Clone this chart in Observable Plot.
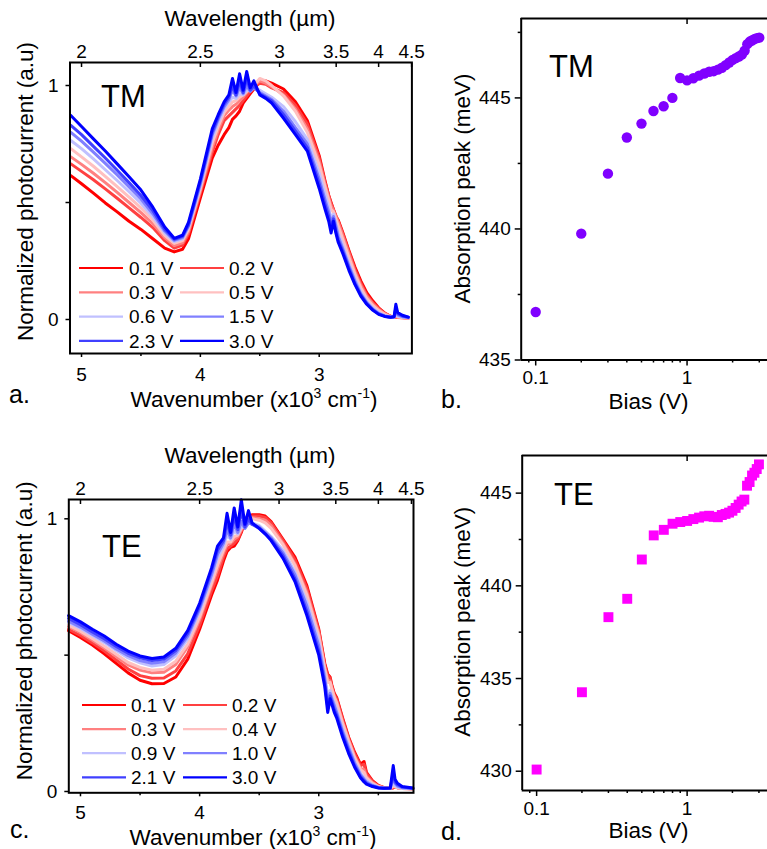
<!DOCTYPE html>
<html><head><meta charset="utf-8">
<script src="https://cdn.jsdelivr.net/npm/d3@7"></script>
<script src="https://cdn.jsdelivr.net/npm/@observablehq/plot@0.6"></script>
<style>
body{margin:0;background:#fff;}
#fig{position:relative;width:767px;height:849px;overflow:hidden;font-family:"Liberation Sans",Arial,sans-serif;color:#000;background:#fff;}
.panel{position:absolute;}
</style></head><body><div id="fig"></div>
<script>
// ---------- DATA ----------
// Wavenumber grids (x10^3 cm^-1)
const waveTM = [5.09,5.0,4.9,4.8,4.7,4.6,4.5,4.4,4.3,4.22, 4.15,4.1,4.0,3.9,3.85,3.8,3.76,3.73,3.70,3.67, 3.64,3.61,3.58,3.55,3.5,3.45,3.4,3.3,3.2,3.1, 3.0,2.95,2.92,2.9,2.88,2.86,2.84,2.8,2.75,2.7, 2.65,2.6,2.55,2.5,2.45,2.4,2.37,2.355,2.34,2.3, 2.25];
const tm01 = [0.615,0.58,0.54,0.498,0.46,0.42,0.385,0.345,0.305,0.289, 0.30,0.345,0.52,0.69,0.745,0.79,0.82,0.855,0.87,0.89, 0.925,0.945,0.965,0.985,1.02,1.02,1.01,0.985,0.93,0.85, 0.70,0.59,0.53,0.50,0.47,0.44,0.425,0.37,0.295,0.225, 0.165,0.115,0.08,0.05,0.028,0.014,0.01,0.012,0.01,0.008, 0.006];
const tm02 = [0.665,0.633,0.597,0.558,0.518,0.477,0.436,0.393,0.337,0.305, 0.318,0.365,0.54,0.715,0.79,0.85,0.87,0.885,0.90,0.915, 0.935,0.955,0.975,0.99,1.01,1.005,0.99,0.97,0.915,0.835, 0.69,0.585,0.53,0.495,0.47,0.445,0.42,0.365,0.29,0.215, 0.155,0.105,0.072,0.047,0.027,0.014,0.01,0.012,0.009,0.007, 0.006];
const tm03 = [0.695,0.663,0.625,0.585,0.543,0.50,0.457,0.41,0.35,0.316, 0.328,0.375,0.55,0.735,0.81,0.87,0.895,0.91,0.92,0.935, 0.95,0.97,0.99,1.0,1.02,1.01,0.995,0.96,0.90,0.815, 0.675,0.575,0.52,0.485,0.465,0.44,0.415,0.355,0.28,0.205, 0.145,0.098,0.067,0.043,0.025,0.013,0.01,0.015,0.01,0.007, 0.006];
const tm05 = [0.73,0.695,0.655,0.612,0.568,0.523,0.477,0.425,0.36,0.325, 0.337,0.385,0.56,0.755,0.825,0.885,0.91,0.93,0.935,0.95, 0.96,0.975,0.99,1.0,1.03,1.02,1.0,0.955,0.89,0.80, 0.66,0.565,0.51,0.47,0.46,0.43,0.40,0.34,0.265,0.195, 0.135,0.09,0.06,0.038,0.022,0.012,0.01,0.02,0.012,0.008, 0.006];
const tm06 = [0.765,0.73,0.686,0.64,0.594,0.546,0.497,0.44,0.37,0.333, 0.345,0.395,0.57,0.775,0.84,0.90,0.93,0.95,0.945,0.965, 0.96,0.98,0.98,0.99,0.98,0.965,0.95,0.91,0.845,0.77, 0.625,0.535,0.48,0.43,0.45,0.41,0.37,0.315,0.24,0.175, 0.12,0.078,0.05,0.03,0.017,0.011,0.01,0.03,0.015,0.01, 0.007];
const tm15 = [0.80,0.762,0.715,0.667,0.618,0.567,0.515,0.452,0.378,0.338, 0.35,0.40,0.58,0.79,0.855,0.91,0.94,0.98,0.955,0.99, 0.965,1.0,0.975,0.99,0.97,0.955,0.94,0.89,0.82,0.75, 0.60,0.51,0.46,0.41,0.44,0.40,0.355,0.30,0.23,0.165, 0.11,0.072,0.045,0.026,0.015,0.01,0.011,0.04,0.02,0.012, 0.008];
const tm23 = [0.83,0.79,0.74,0.69,0.638,0.585,0.53,0.465,0.385,0.343, 0.355,0.405,0.59,0.80,0.865,0.92,0.95,1.0,0.96,1.02, 0.97,1.03,0.98,1.0,0.965,0.95,0.935,0.875,0.805,0.735, 0.58,0.49,0.44,0.39,0.43,0.38,0.34,0.29,0.22,0.155, 0.105,0.068,0.042,0.024,0.014,0.01,0.012,0.05,0.025,0.015, 0.01];
const tm30 = [0.872,0.825,0.772,0.720,0.665,0.610,0.553,0.480,0.395,0.347, 0.36,0.415,0.60,0.815,0.875,0.93,0.96,1.03,0.97,1.05, 0.98,1.06,0.99,1.02,0.96,0.945,0.925,0.86,0.79,0.72, 0.56,0.47,0.42,0.37,0.42,0.37,0.33,0.28,0.21,0.15, 0.10,0.065,0.04,0.022,0.013,0.01,0.012,0.065,0.03,0.018, 0.01];
const biasTM = ["0.1 V","0.2 V","0.3 V","0.5 V","0.6 V","1.5 V","2.3 V","3.0 V"];

const waveTE = [5.1,5.0,4.9,4.8,4.7,4.6,4.5,4.4,4.3,4.2, 4.1,4.0,3.9,3.85,3.8,3.77,3.74,3.71,3.68,3.65, 3.62,3.59,3.56,3.5,3.45,3.4,3.3,3.2,3.1,3.0, 2.95,2.925,2.905,2.89,2.87,2.85,2.8,2.75,2.7,2.65, 2.62,2.6,2.55,2.5,2.45,2.4,2.375,2.36,2.34,2.3, 2.21];
const te01 = [0.59,0.565,0.537,0.505,0.47,0.435,0.408,0.395,0.396,0.42, 0.485,0.595,0.72,0.775,0.845,0.88,0.895,0.90,0.92,0.95, 0.99,1.005,1.015,1.015,1.01,0.99,0.925,0.86,0.755,0.595, 0.47,0.43,0.42,0.39,0.36,0.345,0.27,0.20,0.145,0.10, 0.11,0.07,0.04,0.022,0.014,0.012,0.013,0.02,0.015,0.012, 0.01];
const te02 = [0.595,0.572,0.545,0.515,0.482,0.449,0.425,0.415,0.416,0.442, 0.505,0.61,0.735,0.79,0.86,0.89,0.90,0.91,0.925,0.955, 0.99,1.005,1.01,1.01,1.005,0.985,0.92,0.85,0.745,0.59, 0.465,0.425,0.415,0.385,0.355,0.34,0.265,0.195,0.14,0.095, 0.10,0.065,0.037,0.02,0.013,0.012,0.015,0.018,0.014,0.011, 0.01];
const te03 = [0.605,0.582,0.555,0.526,0.495,0.464,0.445,0.435,0.437,0.466, 0.53,0.63,0.755,0.815,0.875,0.905,0.91,0.925,0.935,0.96, 0.985,1.0,1.005,1.0,0.995,0.975,0.91,0.835,0.73,0.58, 0.455,0.41,0.405,0.38,0.35,0.33,0.255,0.19,0.13,0.085, 0.08,0.055,0.033,0.019,0.013,0.012,0.018,0.017,0.013,0.011, 0.01];
const te04 = [0.61,0.588,0.561,0.533,0.503,0.473,0.455,0.445,0.448,0.478, 0.54,0.64,0.765,0.83,0.885,0.915,0.915,0.935,0.94,0.965, 0.985,0.995,1.0,0.995,0.985,0.965,0.905,0.83,0.72,0.57, 0.45,0.40,0.40,0.375,0.345,0.325,0.25,0.185,0.125,0.08, 0.07,0.05,0.03,0.018,0.013,0.012,0.02,0.018,0.014,0.011, 0.01];
const te09 = [0.62,0.598,0.572,0.546,0.517,0.49,0.472,0.46,0.466,0.498, 0.56,0.66,0.785,0.855,0.90,0.94,0.925,0.955,0.945,0.975, 0.965,0.985,0.985,0.975,0.955,0.935,0.885,0.805,0.695,0.55, 0.43,0.35,0.37,0.35,0.325,0.30,0.23,0.17,0.11,0.068, 0.05,0.04,0.025,0.016,0.012,0.012,0.035,0.022,0.016,0.012, 0.01];
const te10 = [0.625,0.603,0.577,0.552,0.523,0.498,0.48,0.47,0.476,0.508, 0.57,0.67,0.795,0.87,0.91,0.96,0.93,0.98,0.95,0.99, 0.965,0.985,0.98,0.97,0.95,0.93,0.875,0.795,0.68,0.535, 0.415,0.33,0.36,0.34,0.315,0.29,0.22,0.16,0.105,0.062, 0.045,0.035,0.022,0.015,0.012,0.012,0.05,0.03,0.02,0.014, 0.011];
const te21 = [0.635,0.612,0.585,0.56,0.532,0.507,0.49,0.48,0.486,0.517, 0.58,0.68,0.81,0.885,0.92,0.99,0.94,1.01,0.96,1.03, 0.97,1.0,0.98,0.965,0.945,0.925,0.865,0.78,0.66,0.515, 0.40,0.31,0.35,0.33,0.30,0.28,0.21,0.15,0.095,0.055, 0.04,0.03,0.02,0.014,0.012,0.012,0.07,0.035,0.025,0.016, 0.012];
const te30 = [0.645,0.622,0.595,0.57,0.54,0.515,0.497,0.488,0.493,0.525, 0.59,0.69,0.82,0.90,0.93,1.02,0.95,1.04,0.97,1.07, 0.98,1.03,0.985,0.965,0.945,0.92,0.855,0.77,0.645,0.50, 0.385,0.29,0.34,0.32,0.29,0.27,0.20,0.14,0.09,0.05, 0.035,0.027,0.018,0.013,0.012,0.013,0.095,0.045,0.03,0.018, 0.013];
const biasTE = ["0.1 V","0.2 V","0.3 V","0.4 V","0.9 V","1.0 V","2.1 V","3.0 V"];

const lineColors = ["#ff0000","#ff4040","#ff8080","#ffc0c0","#c0c0ff","#8080ff","#4040ff","#0000ff"];

// Absorption peak vs bias
const biasV  = [0.1,0.2,0.3,0.4,0.5,0.6,0.7,0.8,0.9,1.0,1.1,1.2,1.3,1.4,1.5,1.6,1.7,1.8,1.9,2.0,2.1,2.2,2.3,2.4,2.5,2.6,2.7,2.8,2.9,3.0];
const peakTM = [436.83,439.82,442.11,443.49,444.02,444.50,444.68,445.0,445.76,445.67,445.75,445.85,445.93,446.0,446.02,446.08,446.15,446.25,446.35,446.45,446.52,446.58,446.65,446.8,447.05,447.15,447.2,447.25,447.28,447.3];
const peakTE = [430.09,434.26,438.31,439.30,441.42,442.72,443.02,443.35,443.44,443.5,443.6,443.68,443.75,443.78,443.72,443.7,443.82,443.88,443.95,444.05,444.2,444.38,444.55,444.65,445.4,445.6,445.95,446.1,446.3,446.55];

// Tick values
const wnTicks = [5,4,3];
const wnMinor = [4.5,3.5,2.5];
const wlTicks = [2,2.5,3,3.5,4,4.5];
const normTicks = [0,1];
const normMinor = [0.5];
const biasTicks = [0.1,1];
const biasMinor = [0.09,0.2,0.3,0.4,0.5,0.6,0.7,0.8,0.9,2,3];
const tmPeakTicks = [435,440,445];
const tmPeakMinor = [437.5,442.5,447.5];
const tePeakTicks = [430,435,440,445];
const tePeakMinor = [432.5,437.5,442.5];

// ---------- BUILD ----------
const fig = document.getElementById("fig");
const FONT = '"Liberation Sans", Arial, sans-serif';
const baseStyle = {fontFamily: FONT, fontSize: "19px", color: "#000", background: "transparent", overflow: "visible"};

function rows(grid, series, labels) {
  const out = [];
  series.forEach((s, k) => s.forEach((v, i) => out.push({nu: grid[i], v, bias: labels[k]})));
  return out;
}
function place(el, left, top) {
  const d = document.createElement("div");
  d.className = "panel"; d.style.left = left + "px"; d.style.top = top + "px";
  d.appendChild(el); fig.appendChild(d);
}
const fmtNum = d => String(+d.toFixed(2));

function spectrum({data, labels, xDomain, yDomain, width, height, mL, mR, mT, mB, padB}) {
  return Plot.plot({
    width, height, marginLeft: mL, marginRight: mR, marginTop: mT, marginBottom: mB,
    style: baseStyle,
    x: {type: "linear", domain: xDomain, label: null},
    y: {type: "linear", domain: yDomain, label: null},
    color: {type: "ordinal", domain: labels, range: lineColors},
    marks: [
      Plot.line(data, {x: "nu", y: "v", z: "bias", stroke: "bias", strokeWidth: 3}),
      Plot.frame({stroke: "#000", strokeWidth: 2}),
      Plot.axisX(wnTicks, {anchor: "bottom", tickSize: 4, tickPadding: padB, tickFormat: fmtNum, label: null, strokeWidth: 1.5}),
      Plot.axisX(wnMinor, {anchor: "bottom", tickSize: 3, tickFormat: () => "", label: null, strokeWidth: 1.5}),
      Plot.axisX(wlTicks.map(l => 10 / l), {anchor: "top", tickSize: -4, tickPadding: 8.5, tickFormat: d => fmtNum(10 / d), label: null, strokeWidth: 1.5}),
      Plot.axisY(normTicks, {anchor: "left", tickSize: 4, tickPadding: 7.5, tickFormat: fmtNum, label: null, strokeWidth: 1.5}),
      Plot.axisY(normMinor, {anchor: "left", tickSize: 4, tickFormat: () => "", label: null, strokeWidth: 1.5})
    ]
  });
}

function peaks({vals, yDomain, xDomain, width, height, mL, mT, mB, major, minor, symbol, color, r}) {
  const data = biasV.map((b, i) => ({bias: b, peak: vals[i]}));
  return Plot.plot({
    width, height, marginLeft: mL, marginRight: 0, marginTop: mT, marginBottom: mB,
    style: baseStyle,
    x: {type: "log", domain: xDomain, label: null},
    y: {type: "linear", domain: yDomain, label: null},
    marks: [
      Plot.ruleX([xDomain[0]], {stroke: "#000", strokeWidth: 2}),
      Plot.ruleY([yDomain[0]], {stroke: "#000", strokeWidth: 2}),
      Plot.ruleY([yDomain[1]], {stroke: "#000", strokeWidth: 2}),
      Plot.axisX(biasTicks, {anchor: "bottom", tickSize: 6, tickPadding: 4.5, tickFormat: fmtNum, label: null, strokeWidth: 1.5}),
      Plot.axisX(biasMinor, {anchor: "bottom", tickSize: 3, tickFormat: () => "", label: null, strokeWidth: 1.5}),
      Plot.axisX([1], {anchor: "top", tickSize: -5, tickFormat: () => "", label: null, strokeWidth: 1.5}),
      Plot.axisY(major, {anchor: "left", tickSize: 6, tickPadding: 4.5, tickFormat: fmtNum, label: null, strokeWidth: 1.5}),
      Plot.axisY(minor, {anchor: "left", tickSize: 3, tickFormat: () => "", label: null, strokeWidth: 1.5}),
      Plot.dot(data, {x: "bias", y: "peak", r, symbol, fill: color, stroke: "none"})
    ]
  });
}

// Panel a (TM spectra)
place(spectrum({
  data: rows(waveTM, [tm01, tm02, tm03, tm05, tm06, tm15, tm23, tm30], biasTM), labels: biasTM,
  xDomain: [5.097, 2.22], yDomain: [-0.1453, 1.0983],
  width: 430, height: 420, mL: 69.5, mR: 18.6, mT: 62, mB: 67, padB: 9.5
}), 0, 0);

// Panel c (TE spectra)
place(spectrum({
  data: rows(waveTE, [te01, te02, te03, te04, te09, te10, te21, te30], biasTE), labels: biasTE,
  xDomain: [5.098, 2.205], yDomain: [-0.0048, 1.0708],
  width: 430, height: 419, mL: 68.3, mR: 17, mT: 69, mB: 56.7, padB: 8.5
}), 0, 430);

// Panel b (TM peak)
place(peaks({
  vals: peakTM, yDomain: [435, 448.03], xDomain: [0.0802, 3.40],
  width: 337, height: 420, mL: 90.7, mT: 18, mB: 60.5,
  major: tmPeakTicks, minor: tmPeakMinor, symbol: "circle", color: "#8000ff", r: 5.2
}), 430, 0);

// Panel d (TE peak)
place(peaks({
  vals: peakTE, yDomain: [428.96, 447.03], xDomain: [0.0802, 3.42],
  width: 337, height: 419, mL: 91.7, mT: 25, mB: 59,
  major: tePeakTicks, minor: tePeakMinor, symbol: "square", color: "#ff00ff", r: 5.6
}), 430, 430);

// ---------- TEXT OVERLAY ----------
const ov = d3.select("#fig").append("svg")
  .attr("width", 767).attr("height", 849)
  .style("position", "absolute").style("left", 0).style("top", 0)
  .style("pointer-events", "none")
  .attr("font-family", FONT).attr("fill", "#000");

function txt(x, y, s, size, anchor = "start", rotate = false) {
  const t = ov.append("text").attr("x", x).attr("y", y).attr("font-size", size)
    .attr("text-anchor", anchor).text(s);
  if (rotate) t.attr("transform", `rotate(-90 ${x} ${y})`);
  return t;
}
function wnLabel(cx, y) {
  const t = ov.append("text").attr("x", cx).attr("y", y).attr("font-size", 22.5).attr("text-anchor", "middle");
  t.append("tspan").text("Wavenumber (x10");
  t.append("tspan").attr("dy", -9).attr("font-size", 14).text("3");
  t.append("tspan").attr("dy", 9).text(" cm");
  t.append("tspan").attr("dy", -9).attr("font-size", 14).text("-1");
  t.append("tspan").attr("dy", 9).text(")");
}
function legend(labels, rowY0, rowStep, lineX, textX) {
  labels.forEach((lab, i) => {
    const row = Math.floor(i / 2), col = i % 2;
    const y = rowY0 + row * rowStep;
    ov.append("line").attr("x1", lineX[col]).attr("x2", lineX[col] + 44)
      .attr("y1", y).attr("y2", y).attr("stroke", lineColors[i]).attr("stroke-width", 2.2);
    ov.append("text").attr("x", textX[col]).attr("y", y).attr("dy", "0.35em")
      .attr("font-size", 19).text(lab);
  });
}

// Panel a texts
txt(250, 26, "Wavelength (µm)", 22.5, "middle");
wnLabel(254, 406.5);
txt(33, 191.5, "Normalized photocurrent (a.u)", 22.5, "middle", true);
txt(101, 107, "TM", 31);
txt(9, 403, "a.", 25);
legend(biasTM, 268, 24.3, [79, 180], [129, 229]);

// Panel c texts
txt(250, 462.5, "Wavelength (µm)", 22.5, "middle");
wnLabel(253, 845);
txt(32, 630.8, "Normalized photocurrent (a.u)", 22.5, "middle", true);
txt(102, 557, "TE", 31);
txt(10, 838, "c.", 25);
legend(biasTE, 705, 24.1, [82, 183], [131, 232]);

// Panel b texts
txt(470, 188.5, "Absorption peak (meV)", 22.5, "middle", true);
txt(648.5, 409, "Bias (V)", 22.5, "middle");
txt(549, 77, "TM", 31);
txt(441, 408, "b.", 25);

// Panel d texts
txt(470, 621.7, "Absorption peak (meV)", 22.5, "middle", true);
txt(648.5, 837.5, "Bias (V)", 22.5, "middle");
txt(554, 505, "TE", 31);
txt(441, 840, "d.", 25);
</script></body></html>
